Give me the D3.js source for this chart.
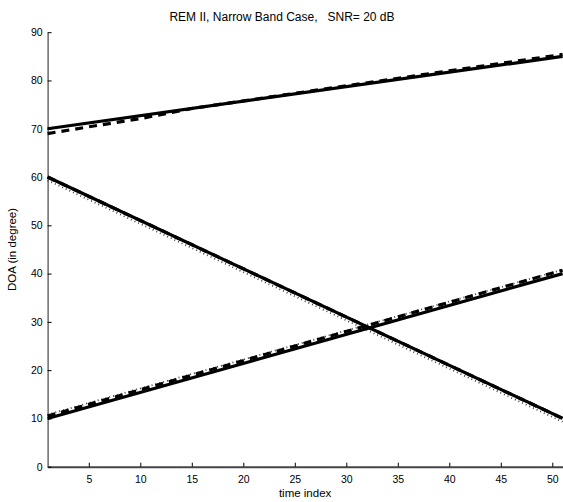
<!DOCTYPE html>
<html><head><meta charset="utf-8">
<script src="https://cdn.jsdelivr.net/npm/d3@7"></script>
<style>body{margin:0;background:#fff;}svg{display:block;font-family:"Liberation Sans",Arial,sans-serif;}</style>
</head><body>
<script>
// time endpoints (straight trajectories)
const timeIdx = [1, 51];
// true DOA trajectories (solid)
const trueA = [70, 85];
const trueB = [60, 10];
const trueC = [10, 40];
// estimated trajectories, dashed
const estDashATime = [1, 5, 10, 15, 30, 51];
const estDashA = [69, 70.4, 72.1, 74.2, 78.9, 85.4];
const estDashB = [60, 10];
const estDashC = [10.5, 40.7];
// estimated trajectories, dotted
const estDotA = [70, 85];
const estDotB = [59.3, 9.3];
const estDotC = [10.8, 40.8];
const xTicks = [5, 10, 15, 20, 25, 30, 35, 40, 45, 50];
const yTicks = [0, 10, 20, 30, 40, 50, 60, 70, 80, 90];

const W = 563, H = 502;
const svg = d3.select("body").append("svg").attr("width", W).attr("height", H);
const x = d3.scaleLinear().domain([1, 51]).range([47.6, 562.6]);
const y = d3.scaleLinear().domain([0, 90]).range([466.7, 32.2]);

const axisColor = "#444";
const gx = svg.append("g").attr("transform", `translate(0,${y(0)})`)
  .call(d3.axisBottom(x).tickValues(xTicks).tickSizeInner(-4).tickSizeOuter(0).tickPadding(9));
const gy = svg.append("g").attr("transform", `translate(${x(1)},0)`)
  .call(d3.axisLeft(y).tickValues(yTicks).tickSizeInner(-4).tickSizeOuter(0).tickPadding(5));
[gx, gy].forEach(g => {
  g.select(".domain").attr("stroke", axisColor).attr("stroke-width", 1.2);
  g.selectAll(".tick line").attr("stroke", "#000");
  g.selectAll(".tick text").attr("fill", "#000").attr("font-size", "10.5px")
   .attr("font-family", "'Liberation Sans',Arial,sans-serif");
});
gx.select(".domain").attr("stroke-width", 2);

const line = d3.line().x(d => x(d[0])).y(d => y(d[1]));
const pts = (v, t = timeIdx) => t.map((ti, i) => [ti, v[i]]);
const plot = svg.append("g");

[estDotA, estDotB, estDotC].forEach(v => plot.append("path").attr("d", line(pts(v)))
  .attr("fill", "none").attr("stroke", "#444").attr("stroke-width", 1.8).attr("stroke-dasharray", "1,3"));
[[estDashA, estDashATime], [estDashB, timeIdx], [estDashC, timeIdx]].forEach(([v, t]) => plot.append("path").attr("d", line(pts(v, t)))
  .attr("fill", "none").attr("stroke", "#000").attr("stroke-width", 3.2).attr("stroke-dasharray", "8,6"));
[trueA, trueB, trueC].forEach(v => plot.append("path").attr("d", line(pts(v)))
  .attr("fill", "none").attr("stroke", "#000").attr("stroke-width", 3.2));

svg.append("text").attr("x", 282).attr("y", 21).attr("text-anchor", "middle")
  .attr("font-size", "12px").attr("xml:space", "preserve").style("white-space", "pre")
  .text("REM II, Narrow Band Case,   SNR= 20 dB");
svg.append("text").attr("x", (x(1) + x(51)) / 2).attr("y", 497).attr("text-anchor", "middle")
  .attr("font-size", "11.5px").text("time index");
svg.append("text").attr("transform", `translate(16,${y(45)}) rotate(-90)`).attr("text-anchor", "middle")
  .attr("font-size", "11.5px").text("DOA (in degree)");
</script>
</body></html>
